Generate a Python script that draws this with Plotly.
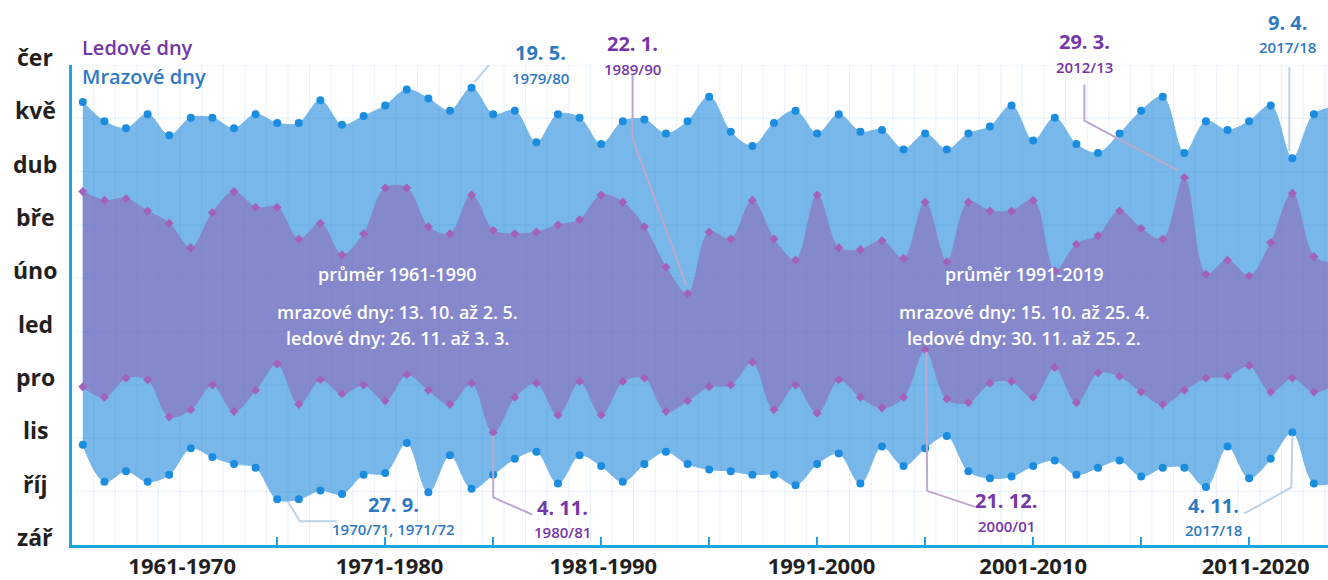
import plotly.graph_objects as go

# winters 1961/62 ... 2019/20, x = first year of the winter
seasons = list(range(1961, 2020))

# days counted from 1 September
frost_first = [57, 36, 42, 36, 40, 55, 50, 46, 44, 26, 26, 31, 29, 40, 41, 58, 30, 51, 32, 40,
               49, 53, 35, 51, 45, 36, 46, 53, 46, 43, 42, 40, 40, 34, 46, 52, 35, 56, 45, 55,
               62, 42, 38, 39, 45, 48, 40, 44, 48, 39, 44, 44, 33, 56, 38, 49, 64, 35, 36]
frost_last = [252, 241, 237, 245, 233, 243, 243, 237, 245, 240, 240, 253, 239, 244, 250, 259, 254, 247, 260, 245,
              247, 229, 245, 243, 228, 241, 242, 234, 241, 255, 235, 227, 240, 247, 234, 245, 235, 236, 225, 234,
              225, 234, 238, 250, 230, 243, 228, 223, 234, 247, 255, 223, 241, 236, 241, 250, 220, 245, 249]
ice_first = [90, 84, 95, 94, 73, 77, 91, 76, 88, 103, 80, 94, 86, 91, 82, 97, 88, 80, 92, 64,
             84, 92, 74, 93, 74, 93, 95, 76, 82, 90, 91, 104, 77, 91, 75, 94, 84, 78, 84, 111,
             83, 81, 92, 93, 84, 101, 81, 98, 96, 87, 80, 88, 95, 96, 102, 87, 95, 87, 92]
ice_last = [201, 196, 197, 190, 183, 169, 189, 201, 192, 192, 174, 183, 165, 177, 203, 203, 181, 177, 199, 179,
            177, 178, 182, 185, 199, 195, 181, 158, 143, 178, 174, 196, 174, 162, 199, 169, 168, 173, 163, 195,
            161, 195, 190, 190, 196, 156, 171, 176, 190, 180, 174, 209, 154, 162, 153, 172, 200, 164, 160]

months = ["zář", "říj", "lis", "pro", "led", "úno", "bře", "dub", "kvě", "čer"]
decades = ["1961-1970", "1971-1980", "1981-1990", "1991-2000", "2001-2010", "2011-2020"]
decade_pos = [1965.6, 1975.2, 1985.1, 1995.2, 2005.0, 2015.3]

avg_left = ["průměr 1961-1990", "mrazové dny: 13. 10. až 2. 5.", "ledové dny: 26. 11. až 3. 3."]
avg_right = ["průměr 1991-2019", "mrazové dny: 15. 10. až 25. 4.", "ledové dny: 30. 11. až 25. 2."]

FONT = "Open Sans"
BLUE_FILL = "#78b7e9"
BLUE_DOT = "#1b8de0"
BLUE_TXT = "#2f79c2"
PURPLE_FILL = "#8688cc"
PURPLE_DOT = "#a362b9"
PURPLE_TXT = "#7536a6"
AXIS = "#1aa7dc"
DARK = "#231f20"

W, H = 1328, 580
ML, MR, MT, MB = 72, 0, 65, 33
YMAX = 273

fig = go.Figure()
fig.add_trace(go.Scatter(x=seasons, y=frost_first, mode="lines+markers",
                         line=dict(color=BLUE_FILL, width=1, shape="spline", smoothing=1),
                         marker=dict(symbol="circle", size=8, color=BLUE_DOT)))
fig.add_trace(go.Scatter(x=seasons, y=frost_last, mode="lines+markers", fill="tonexty",
                         fillcolor=BLUE_FILL,
                         line=dict(color=BLUE_FILL, width=1, shape="spline", smoothing=1),
                         marker=dict(symbol="circle", size=8, color=BLUE_DOT)))
fig.add_trace(go.Scatter(x=seasons, y=ice_first, mode="lines+markers",
                         line=dict(color=PURPLE_FILL, width=1, shape="spline", smoothing=1),
                         marker=dict(symbol="diamond", size=7, color=PURPLE_DOT)))
fig.add_trace(go.Scatter(x=seasons, y=ice_last, mode="lines+markers", fill="tonexty",
                         fillcolor=PURPLE_FILL,
                         line=dict(color=PURPLE_FILL, width=1, shape="spline", smoothing=1),
                         marker=dict(symbol="diamond", size=7, color=PURPLE_DOT)))

shapes = []
grid = "rgba(60,140,210,0.12)"
for yr in seasons[:-1]:
    shapes.append(dict(type="line", xref="x", yref="paper", x0=yr + 0.5, x1=yr + 0.5, y0=0, y1=1,
                       line=dict(color=grid, width=1), layer="above"))
tick_days = [k * YMAX / 9 for k in range(10)]
for d in tick_days[1:]:
    shapes.append(dict(type="line", xref="paper", yref="y", x0=0, x1=1, y0=d, y1=d,
                       line=dict(color=grid, width=1), layer="above"))

ann = []
for m, d in zip(months, tick_days):
    ann.append(dict(text=m, xref="paper", yref="y", x=(35 - ML) / (W - ML - MR), y=d, yshift=8,
                    xanchor="center", yanchor="middle", showarrow=False,
                    font=dict(family=FONT, size=23, color=DARK, weight="bold")))


def paper_y(py):
    return (H - MB - py) / (H - MT - MB)


def paper_x(px):
    return (px - ML) / (W - ML - MR)


ann.append(dict(text="Ledové dny", xref="paper", yref="paper", x=paper_x(80), y=paper_y(47),
                xanchor="left", yanchor="middle", showarrow=False,
                font=dict(family=FONT, size=20, color=PURPLE_TXT, weight=600)))
ann.append(dict(text="Mrazové dny", xref="paper", yref="paper", x=paper_x(80), y=paper_y(77),
                xanchor="left", yanchor="middle", showarrow=False,
                font=dict(family=FONT, size=20, color=BLUE_TXT, weight=600)))

for cx, lines in ((397, avg_left), (1024, avg_right)):
    for txt, py in zip(lines, (275, 313, 339)):
        ann.append(dict(text=txt, xref="paper", yref="paper", x=paper_x(cx), y=paper_y(py),
                        xanchor="center", yanchor="middle", showarrow=False,
                        font=dict(family=FONT, size=18, color="white", weight=600)))

# callouts: series, index, date text, season text, colour, text offset (px), leader path (px, y up)
series = {"frost_first": frost_first, "frost_last": frost_last,
          "ice_first": ice_first, "ice_last": ice_last}
callouts = [
    ("frost_last", 18, "19. 5.", "1979/80", "b", (69, 35), "M 3,6 L 23,29 L 40,29"),
    ("ice_last", 28, "22. 1.", "1989/90", "p", (-55, 250), "M -55,219 L -55,155 L -1,8"),
    ("ice_last", 51, "29. 3.", "2012/13", "p", (-100, 136), "M -100,93 L -100,57 L -6,7"),
    ("frost_last", 56, "9. 4.", "2017/18", "b", (-5, 136), "M -3,91 L -3,7"),
    ("frost_first", 10, "27. 9.", "1970/71, 1971/72", "b", (95, -5), "M -11,-2 L 1,-22 L 38,-22"),
    ("ice_first", 19, "4. 11.", "1980/81", "p", (69, -75), "M 0,-3 L 0,-65 L 39,-82"),
    ("ice_first", 39, "21. 12.", "2000/01", "p", (81, -151), "M 1,-2 L 2,-141 L 50,-157"),
    ("frost_first", 56, "4. 11.", "2017/18", "b", (-79, -73), "M 0,-3 L -1,-55 L -48,-81"),
]
for key, i, big, small, col, (dx, dy), path in callouts:
    txt_col = BLUE_TXT if col == "b" else PURPLE_TXT
    lead_col = "#bcd2e5" if col == "b" else "#bda8cf"
    xv, yv = seasons[i], series[key][i]
    shapes.append(dict(type="path", xref="x", yref="y", xsizemode="pixel", ysizemode="pixel",
                       xanchor=xv, yanchor=yv, path=path, line=dict(color=lead_col, width=2),
                       layer="above"))
    ann.append(dict(text=big, x=xv, y=yv, xshift=dx, yshift=dy, showarrow=False,
                    xanchor="center", yanchor="middle",
                    font=dict(family=FONT, size=20, color=txt_col, weight="bold")))
    ann.append(dict(text=small, x=xv, y=yv, xshift=dx, yshift=dy - 25, showarrow=False,
                    xanchor="center", yanchor="middle",
                    font=dict(family=FONT, size=15, color=txt_col, weight=600)))

fig.update_layout(
    width=W, height=H, autosize=False,
    margin=dict(l=ML, r=MR, t=MT, b=MB, pad=0),
    paper_bgcolor="white", plot_bgcolor="white",
    showlegend=False, hovermode=False,
    shapes=shapes, annotations=ann,
    xaxis=dict(range=[1960.5, 2018.65], tickvals=decade_pos, ticktext=decades, ticks="",
               tickfont=dict(family=FONT, size=22, color=DARK, weight="bold"),
               showgrid=False, zeroline=False, showline=True, linecolor=AXIS, linewidth=3,
               minor=dict(tickvals=list(range(1970, 2016, 5)), ticks="inside", ticklen=8,
                          tickwidth=1.5, tickcolor=AXIS, showgrid=False)),
    yaxis=dict(range=[0, YMAX], showticklabels=False, ticks="", showgrid=False, zeroline=False,
               showline=True, linecolor=AXIS, linewidth=3),
)

fig.write_html("out.html", config={"displayModeBar": False},
               post_script="document.body.style.margin='0px';")
